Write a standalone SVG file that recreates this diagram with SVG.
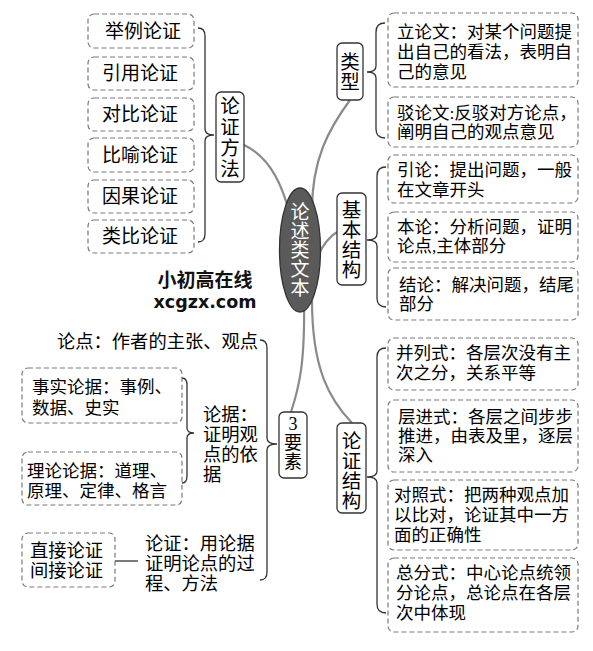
<svg xmlns="http://www.w3.org/2000/svg" width="593" height="651" viewBox="0 0 593 651">
<style>
text{font-family:"Liberation Serif","Noto Sans CJK SC",serif;fill:#000;dominant-baseline:central}
.t17{font-size:17.5px}
.t18{font-size:18.3px}
.t19{font-size:19px}
.v{font-size:19.5px;text-anchor:middle}
.dash{fill:#fff;stroke:#7a7a7a;stroke-width:1.2;stroke-dasharray:5 3}
.node{fill:#fff;stroke:#333;stroke-width:1.3}
.brace{fill:none;stroke:#333;stroke-width:1.3}
.link{fill:none;stroke:#8a8a8a;stroke-width:2.2}
.mid{text-anchor:middle}
.wm{font-family:"Noto Sans CJK SC","DejaVu Sans",sans-serif;font-weight:bold;fill:#111;text-anchor:middle}
</style>
<rect width="593" height="651" fill="#fff"/>
<g id="connectors">
<path class="link" d="M244,145 Q276,160 289,212"/>
<path class="link" d="M350,100 C328,130 312,160 312,210"/>
<path class="link" d="M315,262 Q324,240 337,232"/>
<path class="link" d="M304,300 C305,360 300,385 291,412"/>
<path class="link" d="M312,300 C312,370 330,400 352,423"/>
<path class="brace" d="M198,28 Q205,28 205,36 L205,129 Q205,135 214,135 Q205,135 205,141 L205,234 Q205,242 198,242"/>
<path class="brace" d="M385,23 Q376,23 376,32 L376,66 Q376,72 367,72 Q376,72 376,78 L376,129 Q376,138 385,138"/>
<path class="brace" d="M386,167 Q377,167 377,176 L377,234 Q377,240 367,240 Q377,240 377,246 L377,298 Q377,307 386,307"/>
<path class="brace" d="M386,348 Q377,348 377,357 L377,471 Q377,477 367,477 Q377,477 377,483 L377,604 Q377,613 386,613"/>
<path class="brace" d="M260,340 Q267,340 267,348 L267,438 Q267,444 277,444 Q267,444 267,450 L267,572 Q267,580 260,580"/>
<path class="brace" d="M182,378 Q187,378 187,385 L187,428 Q187,433 194,433 Q187,433 187,438 L187,476 Q187,483 182,483"/>
<path class="brace" d="M115,561 L138,561"/>
</g>
<g id="center">
<ellipse cx="300" cy="250" rx="20.5" ry="62" fill="#5a5a5a" stroke="#333" stroke-width="1.3"/>
<text class="v" style="fill:#fff;font-size:19px" x="300" y="212">论</text>
<text class="v" style="fill:#fff;font-size:19px" x="300" y="231">述</text>
<text class="v" style="fill:#fff;font-size:19px" x="300" y="250">类</text>
<text class="v" style="fill:#fff;font-size:19px" x="300" y="269">文</text>
<text class="v" style="fill:#fff;font-size:19px" x="300" y="288">本</text>
</g>
<g id="methods">
<rect class="node" x="216" y="92" width="28" height="90" rx="5"/>
<text class="v" x="230" y="106">论</text>
<text class="v" x="230" y="127">证</text>
<text class="v" x="230" y="148">方</text>
<text class="v" x="230" y="169">法</text>
</g>
<g id="m1"><rect class="dash" x="88" y="14" width="106" height="34" rx="6"/><text class="t19 mid" x="143" y="31">举例论证</text></g>
<g id="m2"><rect class="dash" x="88" y="57" width="106" height="33" rx="6"/><text class="t19 mid" x="140" y="73">引用论证</text></g>
<g id="m3"><rect class="dash" x="88" y="98" width="106" height="33" rx="6"/><text class="t19 mid" x="140" y="114">对比论证</text></g>
<g id="m4"><rect class="dash" x="88" y="138" width="106" height="34" rx="6"/><text class="t19 mid" x="140" y="155">比喻论证</text></g>
<g id="m5"><rect class="dash" x="88" y="180" width="106" height="33" rx="6"/><text class="t19 mid" x="140" y="196">因果论证</text></g>
<g id="m6"><rect class="dash" x="88" y="220" width="106" height="33" rx="6"/><text class="t19 mid" x="140" y="236">类比论证</text></g>
<g id="types">
<rect class="node" x="337" y="43" width="26" height="57" rx="5"/>
<text class="v" x="350" y="62">类</text>
<text class="v" x="350" y="82">型</text>
</g>
<g id="t1"><rect class="dash" x="388" y="13" width="190" height="74" rx="6"/>
<text class="t17" x="397" y="32">立论文：对某个问题提</text>
<text class="t17" x="397" y="52">出自己的看法，表明自</text>
<text class="t17" x="397" y="72">己的意见</text></g>
<g id="t2"><rect class="dash" x="388" y="97" width="190" height="50" rx="6"/>
<text class="t17" x="397" y="113">驳论文:反驳对方论点，</text>
<text class="t17" x="397" y="132">阐明自己的观点意见</text></g>
<g id="structure">
<rect class="node" x="337" y="193" width="29" height="92" rx="5"/>
<text class="v" x="351.5" y="210">基</text>
<text class="v" x="351.5" y="230">本</text>
<text class="v" x="351.5" y="250">结</text>
<text class="v" x="351.5" y="270">构</text>
</g>
<g id="s1"><rect class="dash" x="388" y="155" width="190" height="48" rx="6"/>
<text class="t17" x="397" y="170">引论：提出问题，一般</text>
<text class="t17" x="397" y="190">在文章开头</text></g>
<g id="s2"><rect class="dash" x="388" y="212" width="190" height="50" rx="6"/>
<text class="t17" x="397" y="227">本论：分析问题，证明</text>
<text class="t17" x="397" y="246">论点,主体部分</text></g>
<g id="s3"><rect class="dash" x="388" y="268" width="190" height="52" rx="6"/>
<text class="t17" x="399" y="285">结论：解决问题，结尾</text>
<text class="t17" x="399" y="304">部分</text></g>
<g id="argstruct">
<rect class="node" x="337" y="423" width="29" height="90" rx="5"/>
<text class="v" x="351.5" y="441">论</text>
<text class="v" x="351.5" y="461">证</text>
<text class="v" x="351.5" y="481">结</text>
<text class="v" x="351.5" y="501">构</text>
</g>
<g id="a1"><rect class="dash" x="388" y="338" width="190" height="52" rx="6"/>
<text class="t17" x="396" y="353">并列式：各层次没有主</text>
<text class="t17" x="396" y="373">次之分，关系平等</text></g>
<g id="a2"><rect class="dash" x="388" y="400" width="190" height="72" rx="6"/>
<text class="t17" x="398" y="417">层进式：各层之间步步</text>
<text class="t17" x="398" y="436">推进，由表及里，逐层</text>
<text class="t17" x="398" y="455">深入</text></g>
<g id="a3"><rect class="dash" x="388" y="480" width="190" height="70" rx="6"/>
<text class="t17" x="394" y="495">对照式：把两种观点加</text>
<text class="t17" x="394" y="515">以比对，论证其中一方</text>
<text class="t17" x="394" y="535">面的正确性</text></g>
<g id="a4"><rect class="dash" x="388" y="558" width="190" height="74" rx="6"/>
<text class="t17" x="396" y="573">总分式：中心论点统领</text>
<text class="t17" x="396" y="593">分论点，总论点在各层</text>
<text class="t17" x="396" y="613">次中体现</text></g>
<g id="elements">
<rect class="node" x="279" y="412" width="28" height="66" rx="5"/>
<text class="v" style="font-size:18px" x="293" y="424">3</text>
<text class="v" style="font-size:18px" x="293" y="443">要</text>
<text class="v" style="font-size:18px" x="293" y="462">素</text>
</g>
<g id="e1"><text class="t18" x="57" y="342">论点：作者的主张、观点</text></g>
<g id="e2"><text class="t18" x="203" y="415">论据：</text><text class="t18" x="203" y="435">证明观</text><text class="t18" x="203" y="455">点的依</text><text class="t18" x="203" y="475">据</text></g>
<g id="e2a"><rect class="dash" x="22" y="368" width="160" height="55" rx="6"/>
<text class="t17" x="32" y="387">事实论据：事例、</text>
<text class="t17" x="32" y="408">数据、史实</text></g>
<g id="e2b"><rect class="dash" x="22" y="452" width="160" height="53" rx="6"/>
<text class="t17" x="27" y="471">理论论据：道理、</text>
<text class="t17" x="27" y="491">原理、定律、格言</text></g>
<g id="e3"><text class="t18" x="145" y="544">论证：用论据</text><text class="t18" x="145" y="564">证明论点的过</text><text class="t18" x="145" y="584">程、方法</text></g>
<g id="e3a"><rect class="dash" x="22" y="533" width="93" height="54" rx="6"/>
<text class="t18" x="30" y="551">直接论证</text>
<text class="t18" x="30" y="571">间接论证</text></g>
<g id="watermark">
<text class="wm" x="205" y="278" style="font-size:19px">小初高在线</text>
<text class="wm" x="205" y="308" style="font-size:17.5px;font-family:'DejaVu Sans',sans-serif;dominant-baseline:auto">xcgzx.com</text>
</g>
</svg>
